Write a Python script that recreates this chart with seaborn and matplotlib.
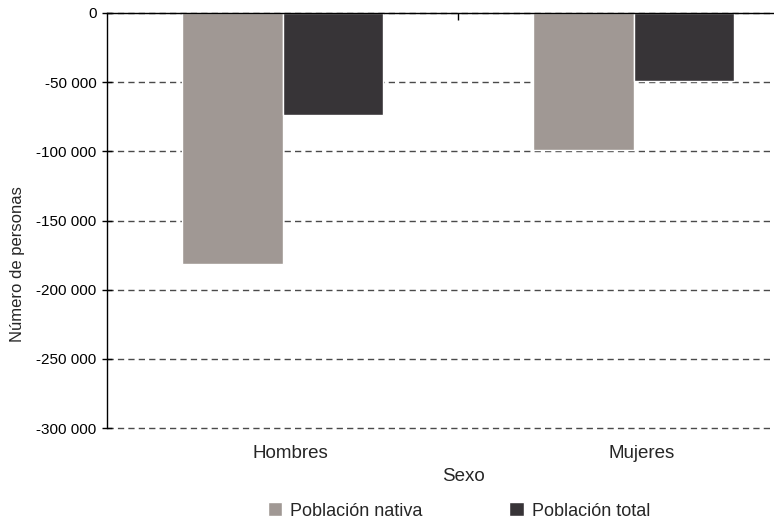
import numpy as np
import pandas as pd
import matplotlib
matplotlib.use("Agg")
import matplotlib.pyplot as plt
import matplotlib.transforms as mtransforms
import seaborn as sns
from matplotlib.ticker import FuncFormatter, FixedLocator

sexo = ["Hombres", "Mujeres"]
series = ["Población nativa", "Población total"]
nativa = [-181500, -99000]
total = [-74000, -49500]
colores = ["#a09894", "#373437"]

df = pd.DataFrame({
    "Sexo": sexo * 2,
    "serie": [series[0]] * 2 + [series[1]] * 2,
    "valor": nativa + total,
})

sns.set_style("white")
plt.rcParams["font.family"] = ["Liberation Sans", "DejaVu Sans"]

fig = plt.figure(figsize=(7.74, 5.22), dpi=100)
ax = fig.add_axes([107 / 774, 94 / 522, 702 / 774, 415 / 522])

sns.barplot(data=df, x="Sexo", y="valor", hue="serie", palette=colores,
            width=0.57, saturation=1, ax=ax, legend=True)

ax.set_xlim(-0.5, 1.5)
ax.set_ylim(-300000, 0)
ax.set_yticks(np.arange(-300000, 1, 50000))
ax.yaxis.set_major_formatter(FuncFormatter(lambda v, p: f"{int(v):,}".replace(",", " ")))
ax.yaxis.grid(True, linestyle=(0, (4.5, 3)), color="#4a4a4a", linewidth=1.0)
ax.set_axisbelow(True)
for gl in ax.get_ygridlines():
    gl.set_clip_on(False)

for s in ["right", "bottom"]:
    ax.spines[s].set_visible(False)
ax.spines["left"].set_color("black")
ax.spines["top"].set_color("black")
ax.spines["left"].set_linewidth(1)
ax.spines["top"].set_linewidth(1)

ax.tick_params(axis="y", left=True, direction="inout", length=7, width=1,
               labelsize=11, colors="black", pad=4)
ax.tick_params(axis="x", which="major", bottom=False, top=False, labelsize=13.5, pad=9)
ax.xaxis.set_minor_locator(FixedLocator([0.5]))
ax.tick_params(axis="x", which="minor", bottom=False, top=True, direction="in",
               length=5, width=1, color="black")

# etiquetas del eje x algo desplazadas a la derecha, como en el original
desplaza = mtransforms.ScaledTranslation(8 / 100, 0, fig.dpi_scale_trans)
for lab in ax.get_xticklabels():
    lab.set_transform(lab.get_transform() + desplaza)

ax.set_xlabel("Sexo", fontsize=13.5)
ax.xaxis.set_label_coords(0.5085, -0.097)
ax.set_ylabel("Número de personas", fontsize=12)
ax.yaxis.set_label_coords(-0.117, 0.395)

handles, labels = ax.get_legend_handles_labels()
ax.get_legend().remove()
fig.legend(handles, labels, loc="center", bbox_to_anchor=(459 / 774, 1 - 511 / 522),
           ncol=2, frameon=False, fontsize=13, handlelength=0.8, handleheight=0.8,
           columnspacing=4.8, handletextpad=0.45, borderpad=0)

fig.savefig("out.png", dpi=100)
